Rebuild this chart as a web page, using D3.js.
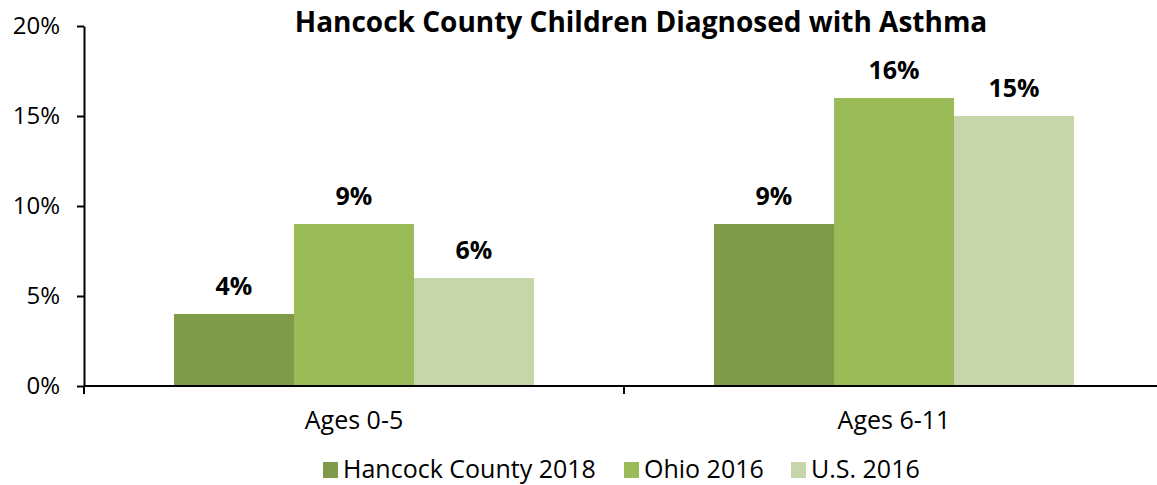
<!DOCTYPE html>
<html lang="en">
<head>
  <meta charset="UTF-8">
  <title>Hancock County Children Diagnosed with Asthma</title>
  <script src="https://d3js.org/d3.v7.min.js"></script>
  <style>
    body { margin: 0; background: #fff; }
    svg { display: block; font-family: "Open Sans", "Noto Sans", sans-serif; }
  </style>
</head>
<body>
  <svg id="chart" width="1157" height="485"></svg>
  <script>
    const categories = ["Ages 0-5", "Ages 6-11"];
    const seriesNames = ["Hancock County 2018", "Ohio 2016", "U.S. 2016"];
    const hancock2018 = [4, 9];
    const ohio2016 = [9, 16];
    const us2016 = [6, 15];
    const yTicks = [0, 5, 10, 15, 20];
    const colors = ["#7f9a48", "#9bbb59", "#c6d6aa"];

    const seriesValues = [hancock2018, ohio2016, us2016];
    const data = categories.map((c, i) => ({
      category: c,
      values: seriesNames.map((s, j) => ({ series: s, value: seriesValues[j][i] }))
    }));

    const svg = d3.select("#chart");
    const plotLeft = 84, plotRight = 1164, plotTop = 26, plotBottom = 386;

    const x0 = d3.scaleBand().domain(categories).range([plotLeft, plotRight]);
    const x1 = d3.scaleBand().domain(seriesNames).range([90, x0.bandwidth() - 90]);
    const y = d3.scaleLinear().domain([0, 20]).range([plotBottom, plotTop]);

    // Title
    svg.append("text")
      .attr("x", 641).attr("y", 32)
      .attr("text-anchor", "middle")
      .attr("font-size", 28).attr("font-weight", "bold")
      .text("Hancock County Children Diagnosed with Asthma");

    // Bars
    const groups = svg.append("g").selectAll("g")
      .data(data).join("g")
      .attr("transform", d => `translate(${x0(d.category)},0)`);

    groups.selectAll("rect")
      .data(d => d.values).join("rect")
      .attr("x", d => x1(d.series))
      .attr("y", d => y(d.value))
      .attr("width", x1.bandwidth())
      .attr("height", d => y(0) - y(d.value))
      .attr("fill", (d, i) => colors[i]);

    groups.selectAll("text")
      .data(d => d.values).join("text")
      .attr("x", d => x1(d.series) + x1.bandwidth() / 2)
      .attr("y", d => y(d.value) - 19)
      .attr("text-anchor", "middle")
      .attr("font-size", 25).attr("font-weight", "bold")
      .text(d => d.value + "%");

    // Y axis
    const yAxis = svg.append("g")
      .attr("transform", `translate(${plotLeft},0)`)
      .call(d3.axisLeft(y).tickValues(yTicks).tickSize(7).tickSizeOuter(0).tickPadding(17).tickFormat(d => d + "%"));
    yAxis.select(".domain").attr("stroke", "#000").attr("stroke-width", 2);
    yAxis.selectAll(".tick line").attr("stroke", "#000").attr("stroke-width", 2);
    yAxis.selectAll(".tick text").attr("font-size", 24).attr("fill", "#000")
      .attr("font-family", "'Open Sans', sans-serif");

    // X axis
    const xAxis = svg.append("g")
      .attr("transform", `translate(0,${plotBottom})`);
    xAxis.append("line")
      .attr("x1", plotLeft).attr("x2", plotRight)
      .attr("stroke", "#000").attr("stroke-width", 2);
    xAxis.selectAll(".sep")
      .data(categories.concat(["end"])).join("line")
      .attr("class", "sep")
      .attr("x1", (d, i) => plotLeft + i * x0.bandwidth())
      .attr("x2", (d, i) => plotLeft + i * x0.bandwidth())
      .attr("y1", 0).attr("y2", 8)
      .attr("stroke", "#000").attr("stroke-width", 2);
    xAxis.selectAll(".lbl")
      .data(categories).join("text")
      .attr("class", "lbl")
      .attr("x", d => x0(d) + x0.bandwidth() / 2)
      .attr("y", 43)
      .attr("text-anchor", "middle")
      .attr("font-size", 25)
      .text(d => d);

    // Legend
    const legendItems = [
      { name: seriesNames[0], x: 323 },
      { name: seriesNames[1], x: 624 },
      { name: seriesNames[2], x: 791 }
    ];
    const legend = svg.append("g").selectAll("g")
      .data(legendItems).join("g")
      .attr("transform", d => `translate(${d.x},0)`);
    legend.append("rect")
      .attr("x", 0).attr("y", 462)
      .attr("width", 15).attr("height", 16)
      .attr("fill", (d, i) => colors[i]);
    legend.append("text")
      .attr("x", 20).attr("y", 478)
      .attr("font-size", 25)
      .text(d => d.name);
  </script>
</body>
</html>
